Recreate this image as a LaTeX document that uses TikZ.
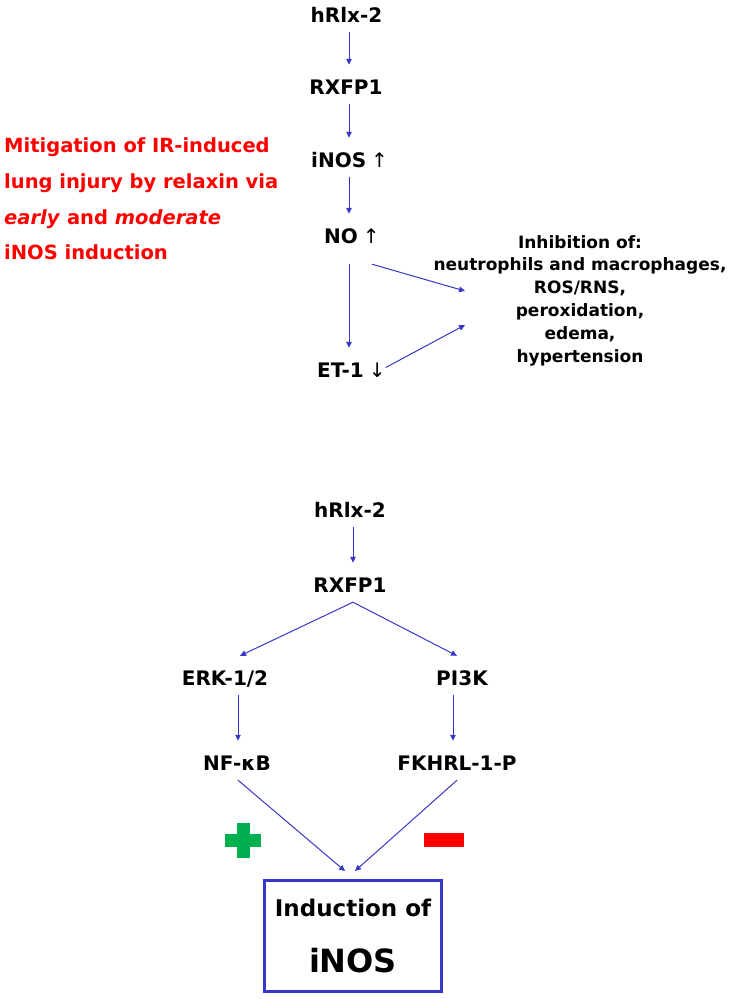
\documentclass[tikz,border=0pt]{standalone}
\usepackage{fontspec}
\setmainfont{DejaVu Sans}
\usetikzlibrary{calc,arrows.meta}
\definecolor{pathblue}{RGB}{55,55,200}
\definecolor{notered}{RGB}{255,0,0}
\definecolor{plusgreen}{RGB}{0,176,80}
\tikzset{
	mol/.style={font=\bfseries\fontsize{20}{24}\selectfont, inner xsep=0pt, inner ysep=10pt, text height=19pt, text depth=0pt, anchor=base},
	act/.style={draw=pathblue, line width=1pt, -{Triangle[length=6pt,width=5.5pt]}},
	inh/.style={font=\bfseries\fontsize{17}{22.8}\selectfont, align=center, anchor=north, inner sep=0pt},
	note/.style={font=\bfseries\fontsize{19.5}{35.8}\selectfont, text=notered, align=left, anchor=north west, inner sep=0pt},
	target/.style={draw=pathblue, line width=3pt, minimum width=177pt, minimum height=111pt, align=center, inner sep=0pt, font=\bfseries\fontsize{23}{56}\selectfont}
}

\begin{document}
\begin{tikzpicture}[x=1pt, y=-1pt]
		%%%%% START %%%%%
		\useasboundingbox (0,0) rectangle (730,999);
		
		\coordinate (topcol) at (349,0);
		\coordinate (midcol) at (353,0);
		\coordinate (lcol) at (238,0);
		\coordinate (rcol) at (453,0);
		
		% upper pathway
		\node[mol] (h1) at (346.5,22) {hRlx-2};
		\node[mol] (r1) at (346,94) {RXFP1};
		\node[mol, anchor=base west] (i1) at (311,167) {iNOS\kern5pt{\mdseries ↑}};
		\node[mol, anchor=base west] (no) at (324,243) {NO\kern5pt{\mdseries ↑}};
		\node[mol, anchor=base west] (et) at (317,377) {ET-1\kern5pt{\mdseries ↓}};
		
		\draw[act] (h1.south -| topcol) -- (r1.north -| topcol);
		\draw[act] (r1.south -| topcol) -- (i1.north -| topcol);
		\draw[act] (i1.south -| topcol) -- (no.north -| topcol);
		\draw[act, shorten <=11pt] (no.south -| topcol) -- (et.north -| topcol);
		
		\node[inh] (inh) at (580,235) {Inhibition of:\\neutrophils and macrophages,\\ROS/RNS,\\peroxidation,\\edema,\\hypertension};
		\coordinate (inA) at (465,291);
		\coordinate (inB) at (465,325);
		\draw[act] ($(no.south -| topcol)+(23,11)$) -- (inA);
		\draw[act] (et.east) -- (inB);
		
		\node[note] (note) at (4,137.5) {Mitigation of IR-induced\\lung injury by relaxin via\\\textit{early} and \textit{moderate}\\iNOS induction};
		
		% lower pathway
		\node[mol] (h2) at (350,517) {hRlx-2};
		\node[mol] (r2) at (350,592) {RXFP1};
		\node[mol] (erk) at (225,685) {ERK-1/2};
		\node[mol] (pi) at (462,685) {PI3K};
		\node[mol] (nf) at (237,770) {NF-κB};
		\node[mol] (fk) at (457,770) {FKHRL-1-P};
		\node[target] (ind) at (353,936) {Induction of\\{\fontsize{32}{56}\selectfont iNOS}};
		
		\draw[act] (h2.south -| midcol) -- (r2.north -| midcol);
		\draw[act] (r2.south -| midcol) -- ([xshift=2pt]erk.north -| lcol);
		\draw[act] (r2.south -| midcol) -- ([xshift=4pt]pi.north -| rcol);
		\draw[act] (erk.south -| lcol) -- (nf.north -| lcol);
		\draw[act] (pi.south -| rcol) -- (fk.north -| rcol);
		\draw[act] (nf.south -| lcol) -- ([xshift=-8pt,yshift=8pt]ind.north);
		\draw[act] ([xshift=4pt]fk.south -| rcol) -- ([xshift=2pt,yshift=8pt]ind.north);
		
		% plus and minus
		\fill[plusgreen] (225,834) rectangle (261,847);
		\fill[plusgreen] (236.5,823) rectangle (249.5,858);
		\fill[notered] (424,833) rectangle (464,847);
		%%%%% END %%%%%
\end{tikzpicture}
\end{document}
